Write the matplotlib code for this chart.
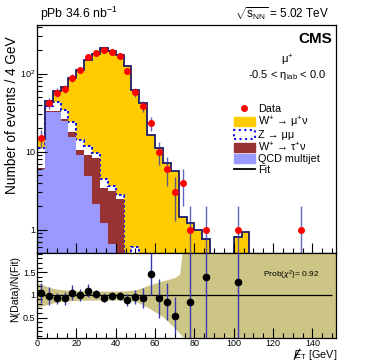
import numpy as np
import matplotlib
matplotlib.use('Agg')
import matplotlib.pyplot as plt
from matplotlib.patches import Patch
from matplotlib.lines import Line2D
from matplotlib.transforms import IdentityTransform
from matplotlib.ticker import FixedLocator, FixedFormatter, MultipleLocator

plt.rcParams['font.family'] = ['Liberation Sans', 'DejaVu Sans']
plt.rcParams['mathtext.fontset'] = 'custom'
plt.rcParams['mathtext.rm'] = 'Liberation Sans'
plt.rcParams['mathtext.it'] = 'Liberation Sans:italic'
plt.rcParams['mathtext.bf'] = 'Liberation Sans:bold'

# 4 GeV bins from 0 to 152 GeV (38 bins)
bin_edges = np.arange(0, 153, 4)

# fitted template contributions per bin (events / 4 GeV)
qcd = [6.0, 32, 32, 24.5, 15.5, 9.0, 4.8, 2.1, 1.22, 0.65, 0, 0, 0, 0, 0, 0, 0, 0, 0,
       0, 0, 0, 0, 0, 0, 0, 0, 0, 0, 0, 0, 0, 0, 0, 0, 0, 0, 0]
wtaunu = [0.15, 1.4, 1.5, 1.5, 2.5, 1.5, 4.2, 6.1, 2.2, 2.45, 2.5, 0.3, 0, 0, 0, 0, 0, 0, 0,
          0, 0, 0, 0, 0, 0, 0, 0, 0, 0, 0, 0, 0, 0, 0, 0, 0, 0, 0]
zmumu = [4.85, 4.6, 10.1, 8.0, 5.7, 3.6, 2.8, 1.5, 1.0, 0.5, 0.25, 0, 0.6, 0, 0, 0, 0, 0, 0,
         0, 0, 0, 0, 0, 0, 0, 0, 0, 0, 0, 0, 0, 0, 0, 0, 0, 0, 0]
wmunu = [3.4, 6.0, 16.4, 34, 63.3, 97.9, 136.2, 170.3, 205.6, 191.4, 169.3, 123.7, 61.4, 41.5,
         16.2, 11.0, 7.2, 5.6, 1.45, 1.2, 1.0, 0.75, 0.4, 0.35, 0.3, 0.8, 0.92, 0.2, 0.15,
         0.1, 0.1, 0.05, 0.05, 0.05, 0.03, 0.03, 0.02, 0.02]

# data (only non-empty bins)
data_x = [2, 6, 10, 14, 18, 22, 26, 30, 34, 38, 42, 46, 50, 54, 58, 62, 66, 70, 74, 78, 86, 102, 134]
data_n = [15, 42, 57, 64, 88, 112, 162, 182, 202, 187, 169, 109, 58, 38, 23, 10, 6, 3, 4, 1, 1, 1, 1]
data_err = [3.9, 6.5, 7.5, 8.0, 9.4, 10.6, 12.7, 13.5, 14.2, 13.7, 13.0, 10.4, 7.6, 6.2, 4.8,
            3.2, 2.4, 1.7, 2.0, 1.0, 1.0, 1.0, 1.0]

# ratio panel
ratio_x = [2, 6, 10, 14, 18, 22, 26, 30, 34, 38, 42, 46, 50, 54, 58, 62, 66, 70, 78, 86, 102]
ratio = [1.04, 0.97, 0.92, 0.92, 1.05, 1.0, 1.09, 1.02, 0.94, 0.97, 0.98, 0.88, 0.95, 0.94,
         1.46, 0.92, 0.85, 0.54, 0.85, 1.39, 1.28]
ratio_err = [0.23, 0.2, 0.13, 0.14, 0.16, 0.13, 0.14, 0.09, 0.09, 0.09, 0.09, 0.13, 0.16, 0.22,
             0.47, 0.43, 0.4, 0.41, 1.2, 1.4, 1.3]
band_x = [0, 7, 13, 22, 39, 46, 51, 56, 64, 70, 72.5, 74, 76, 152]
band_hi = [1.27, 1.15, 1.11, 1.09, 1.08, 1.09, 1.12, 1.2, 1.31, 1.38, 1.45, 2.0, 2.0, 2.0]
band_lo = [0.72, 0.81, 0.86, 0.88, 0.89, 0.88, 0.84, 0.73, 0.52, 0.27, 0.15, 0.08, 0.0, 0.0]

W, H = 374, 361
fig = plt.figure(figsize=(W / 100, H / 100), dpi=100)

def fx(px):
    return px / W

def fy(py):
    return 1 - py / H

ax = fig.add_axes([fx(37), fy(253), fx(336) - fx(37), fy(25) - fy(253)])
axr = fig.add_axes([fx(37), fy(338), fx(336) - fx(37), fy(253) - fy(338)], sharex=ax)

floor = 1e-3
q = np.array(qcd)
t = q + np.array(wtaunu)
z = t + np.array(zmumu)
tot = z + np.array(wmunu)

yellow, zblue, taured, lav = '#ffcc00', '#1414e6', '#993333', '#9999ff'
ax.stairs(np.maximum(tot, floor), bin_edges, baseline=floor, fill=True, color=yellow, lw=0)
ax.stairs(np.maximum(z, floor), bin_edges, baseline=floor, fill=True, color='white', lw=0)
ax.stairs(np.maximum(z, floor), bin_edges, baseline=floor, color=zblue, ls=(0, (1.2, 1.2)), lw=1.5)
ax.stairs(np.maximum(t, floor), bin_edges, baseline=floor, fill=True, color=taured, lw=0)
ax.stairs(np.maximum(q, floor), bin_edges, baseline=floor, fill=True, color=lav, lw=0)
ax.stairs(np.maximum(tot, floor), bin_edges, baseline=floor, color='#1c1c66', lw=1.3)

ax.errorbar(data_x, data_n, yerr=data_err, xerr=1.5, fmt='none', ecolor='#3030b0',
            elinewidth=1.0, alpha=0.75, zorder=5)
ax.plot(data_x, data_n, 'o', color='red', ms=4, zorder=6)

ax.set_yscale('log')
ax.set_ylim(0.5, 420)
ax.set_xlim(0, 152)
ax.yaxis.set_major_locator(FixedLocator([1, 10, 100]))
ax.yaxis.set_major_formatter(FixedFormatter(['1', '10', '$10^{2}$']))
minors = [v * d for d in (0.1, 1, 10, 100) for v in range(2, 10)]
ax.yaxis.set_minor_locator(FixedLocator(minors))
ax.yaxis.set_minor_formatter(FixedFormatter([]))

for a in (ax, axr):
    a.xaxis.set_major_locator(MultipleLocator(20))
    a.xaxis.set_minor_locator(MultipleLocator(5))
    a.tick_params(which='both', direction='in', top=False, right=False, labelsize=6.5, pad=1.0)
    a.tick_params(which='major', length=7, width=0.8)
    a.tick_params(which='minor', length=3.5, width=0.8)
    for s in a.spines.values():
        s.set_linewidth(0.9)
ax.tick_params(labelbottom=False)

# ratio panel
axr.fill_between(band_x, band_lo, band_hi, color='#cdc585', lw=0)
axr.hlines(1, 0, 150, color='black', lw=0.9)
axr.errorbar(ratio_x, ratio, yerr=ratio_err, xerr=1.5, fmt='o', color='black', ms=4.5,
             ecolor='#3a3ab0', elinewidth=1.0, zorder=5)
axr.set_ylim(0.05, 1.92)
axr.yaxis.set_major_locator(FixedLocator([0.5, 1, 1.5]))
axr.yaxis.set_major_formatter(FixedFormatter(['0.5', '1', '1.5']))
axr.yaxis.set_minor_locator(MultipleLocator(0.1))
axr.set_xticks(range(0, 141, 20))
axr.set_xticklabels([str(v) for v in range(0, 141, 20)])

# legend
handles = [
    Line2D([], [], marker='o', color='red', ls='none', ms=4),
    Patch(facecolor=yellow, edgecolor=yellow),
    Patch(facecolor='white', edgecolor=zblue, ls=':', lw=1.5),
    Patch(facecolor=taured, edgecolor=taured),
    Patch(facecolor=lav, edgecolor=lav),
    Line2D([], [], color='black', lw=1.3),
]
labels = ['Data', 'W$^{+}$ → μ$^{+}$ν', 'Z → μμ', 'W$^{+}$ → τ$^{+}$ν', 'QCD multijet', 'Fit']
fig.legend(handles, labels, loc='upper left', bbox_to_anchor=(fx(234), fy(104)),
           frameon=False, fontsize=7.8, handlelength=1.9, handleheight=0.85,
           handletextpad=0.35, labelspacing=0.04, borderpad=0, borderaxespad=0)

# texts
fig.text(fx(40), fy(18), 'pPb 34.6 nb$^{-1}$', fontsize=8.8, va='baseline')
fig.text(fx(329), fy(18), r'$\sqrt{\mathrm{s}_{\mathrm{NN}}}$ = 5.02 TeV', fontsize=8.5,
         ha='right', va='baseline')
fig.text(fx(332), fy(43), 'CMS', fontsize=11, fontweight='bold', ha='right', va='baseline')
fig.text(fx(287), fy(64), 'μ$^{+}$', fontsize=8, ha='center', va='baseline')
fig.text(fx(287), fy(78), r'-0.5 < η$_{\mathrm{lab}}$ < 0.0', fontsize=8, ha='center',
         va='baseline')
fig.text(fx(263), fy(277), r'Prob($\chi^{2}$)= 0.92', fontsize=6, va='baseline')
xbase = 358.3
xlab = fig.text(fx(337), fy(xbase), r'$E_{\mathrm{T}}$ [GeV]', fontsize=7.8, ha='right',
                va='baseline')
fig.text(fx(12), fy(36), 'Number of events / 4 GeV', fontsize=9.8, rotation=90,
         ha='center', va='top')
fig.text(fx(15), fy(256), 'N(Data)/N(Fit)', fontsize=7.6, rotation=90, ha='center', va='top')

# slash through the E of the missing-ET label
fig.canvas.draw()
bb = xlab.get_window_extent(fig.canvas.get_renderer())
base = H * fy(xbase)
fig.add_artist(Line2D([bb.x0 + 1.5, bb.x0 + 7.0], [base - 1, base + 9.0], color='black',
                      lw=0.8, transform=IdentityTransform()))

fig.savefig('out.png', dpi=100)
